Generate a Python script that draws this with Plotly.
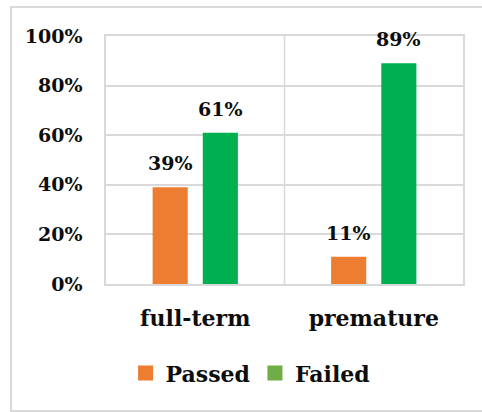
import plotly.graph_objects as go

# Hearing screening outcome by birth group
groups = ["full-term", "premature"]
passed = [0.39, 0.11]
failed = [0.61, 0.89]
series_names = ["Passed", "Failed"]
y_ticks = [0, 0.2, 0.4, 0.6, 0.8, 1.0]

bar_colors = ["#ED7D31", "#00B050"]
legend_colors = ["#ED7D31", "#70AD47"]
grid = "#D9D9D9"
ink = "#0D0D0D"
serif = "DejaVu Serif"

W, H = 482, 412
L, R, T, B = 106, 19, 36, 128
pw, ph = W - L - R, H - T - B

fig = go.Figure()
for name, vals, col in zip(series_names, [passed, failed], bar_colors):
    fig.add_trace(go.Bar(x=groups, y=vals, name=name, marker=dict(color=col, line=dict(width=0)),
                         showlegend=False, hoverinfo="skip"))

# legend swatches as square markers
for name, col in zip(series_names, legend_colors):
    fig.add_trace(go.Scatter(x=[None], y=[None], mode="markers", name=name,
                             marker=dict(symbol="square", size=15, color=col)))

# value labels above each bar
slot_px = pw / len(groups) * (1 - 0.438) / 2
for j, vals in enumerate([passed, failed]):
    for g, v in zip(groups, vals):
        fig.add_annotation(x=g, y=v, text=f"{round(v*100)}%", showarrow=False,
                           xanchor="center", yanchor="bottom", yshift=11,
                           xshift=(j - 0.5) * slot_px,
                           font=dict(family=serif, size=19, color=ink, weight="bold"))

# divider between the two groups
fig.add_shape(type="line", xref="x", yref="paper", x0=0.5, x1=0.5, y0=0, y1=1,
              line=dict(color=grid, width=1.5), layer="below")

# outer chart frame
fig.add_shape(type="rect", xref="paper", yref="paper",
              x0=(11 - L) / pw, x1=(W + 3 - L) / pw,
              y0=(ph + T - 411) / ph, y1=(ph + T - 7) / ph,
              line=dict(color=grid, width=2), fillcolor="rgba(0,0,0,0)", layer="below")

fig.update_layout(
    width=W, height=H,
    margin=dict(l=L, r=R, t=T, b=B, pad=0),
    paper_bgcolor="white", plot_bgcolor="white",
    barmode="group", bargap=0.438, bargroupgap=0.3,
    showlegend=True,
    legend=dict(orientation="h", x=0.405, xanchor="center", y=-0.36, yanchor="middle",
                font=dict(family=serif, size=22, color=ink, weight="bold"),
                itemwidth=30, tracegroupgap=0, bgcolor="rgba(0,0,0,0)"),
    xaxis=dict(type="category", range=[-0.5, 1.5], showgrid=False,
               showline=True, mirror=True, linecolor=grid, linewidth=1.5,
               ticks="", ticklabelstandoff=14,
               tickfont=dict(family=serif, size=22, color=ink, weight="bold")),
    yaxis=dict(range=[0, 1], tickvals=y_ticks, tickformat=".0%",
               showgrid=True, gridcolor=grid, gridwidth=1.5,
               showline=True, mirror=True, linecolor=grid, linewidth=1.5,
               zeroline=False, ticks="", ticklabelstandoff=18,
               tickfont=dict(family=serif, size=19, color=ink, weight="bold")),
)

fig.write_html("out.html")
